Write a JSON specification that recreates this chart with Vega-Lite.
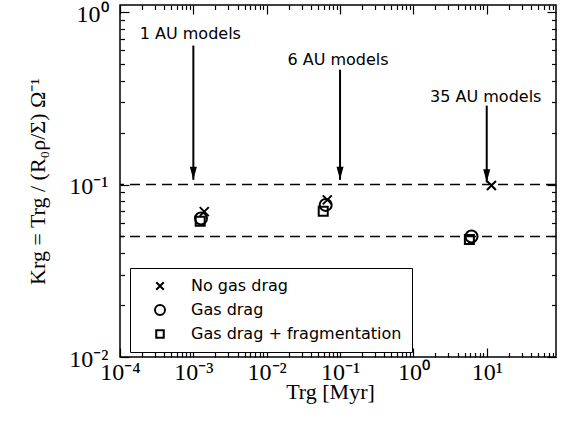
{
  "$schema": "https://vega.github.io/schema/vega-lite/v6.json",
  "width": 436,
  "height": 352,
  "autosize": {"type": "none"},
  "background": "white",
  "padding": {"left": 120, "top": 5, "right": 11, "bottom": 71},
  "config": {"view": {"stroke": "black", "strokeWidth": 1.5}, "font": "DejaVu Sans",
    "axis": {"domain": false, "grid": false, "labelOverlap": false, "labelFlush": false, "ticks": true, "tickColor": "black", "tickOpacity": 1, "tickWidth": 1.2, "zindex": 1}},
  "datasets": {
    "points": [
      {"T": 0.00141, "K": 0.0697, "series": "No gas drag"},
      {"T": 0.00127, "K": 0.0636, "series": "Gas drag"},
      {"T": 0.00124, "K": 0.0612, "series": "Gas drag + fragmentation"},
      {"T": 0.067, "K": 0.0815, "series": "No gas drag"},
      {"T": 0.0637, "K": 0.0762, "series": "Gas drag"},
      {"T": 0.059, "K": 0.070, "series": "Gas drag + fragmentation"},
      {"T": 11.6, "K": 0.0987, "series": "No gas drag"},
      {"T": 6.2, "K": 0.050, "series": "Gas drag"},
      {"T": 5.8, "K": 0.048, "series": "Gas drag + fragmentation"}
    ],
    "dashes": [{"K": 0.1}, {"K": 0.05}],
    "arrows": [
      {"T": 0.001, "y_start": 0.64, "y_end": 0.1065},
      {"T": 0.1, "y_start": 0.464, "y_end": 0.1065},
      {"T": 10, "y_start": 0.287, "y_end": 0.103}
    ],
    "labels": [
      {"T": 0.00091, "K": 0.75, "text": "1 AU models"},
      {"T": 0.094, "K": 0.528, "text": "6 AU models"},
      {"T": 9.7, "K": 0.321, "text": "35 AU models"}
    ]
  },
  "layer": [
    {
      "data": {"name": "dashes"},
      "mark": {"type": "rule", "strokeDash": [10, 6], "strokeWidth": 1.5, "color": "black"},
      "encoding": {
        "y": {"field": "K", "type": "quantitative", "scale": {"type": "log", "domain": [0.01, 1.1], "nice": false}, "axis": null}
      }
    },
    {
      "data": {"name": "arrows"},
      "mark": {"type": "rule", "strokeWidth": 2, "color": "black"},
      "encoding": {
        "x": {"field": "T", "type": "quantitative", "scale": {"type": "log", "domain": [0.0001, 88], "nice": false},
          "axis": {"orient": "top", "labels": false, "title": null, "tickSize": 9, "offset": -9,
            "values": [0.0001,0.001,0.01,0.1,1,10]}},
        "y": {"field": "y_start", "type": "quantitative", "scale": {"type": "log", "domain": [0.01, 1.1], "nice": false},
          "axis": {"orient": "right", "labels": false, "title": null, "tickSize": 9, "offset": -9,
            "values": [0.01,0.1,1]}},
        "y2": {"field": "y_end"}
      }
    },
    {
      "data": {"name": "arrows"},
      "mark": {"type": "point", "shape": "M-0.27,-1L0.27,-1L0,0Z", "filled": true, "color": "black", "size": 676, "opacity": 1},
      "encoding": {
        "x": {"field": "T", "type": "quantitative", "scale": {"type": "log", "domain": [0.0001, 88], "nice": false},
          "axis": {"orient": "top", "labels": false, "title": null, "tickSize": 4.5, "offset": -4.5,
            "values": [0.0002,0.0003,0.0004,0.0005,0.0006,0.0007,0.0008,0.0009,0.002,0.003,0.004,0.005,0.006,0.007,0.008,0.009,0.02,0.03,0.04,0.05,0.06,0.07,0.08,0.09,0.2,0.3,0.4,0.5,0.6,0.7,0.8,0.9,2,3,4,5,6,7,8,9,20,30,40,50,60,70,80]}},
        "y": {"field": "y_end", "type": "quantitative", "scale": {"type": "log", "domain": [0.01, 1.1], "nice": false},
          "axis": {"orient": "right", "labels": false, "title": null, "tickSize": 4.5, "offset": -4.5,
            "values": [0.02,0.03,0.04,0.05,0.06,0.07,0.08,0.09,0.2,0.3,0.4,0.5,0.6,0.7,0.8,0.9]}}
      }
    },
    {
      "data": {"name": "labels"},
      "mark": {"type": "text", "font": "DejaVu Sans", "fontSize": 16, "color": "black", "align": "center", "baseline": "middle"},
      "encoding": {
        "x": {"field": "T", "type": "quantitative", "scale": {"type": "log", "domain": [0.0001, 88], "nice": false},
          "axis": {"orient": "bottom", "labels": false, "title": null, "tickSize": 4.5, "offset": -4.5,
            "values": [0.0002,0.0003,0.0004,0.0005,0.0006,0.0007,0.0008,0.0009,0.002,0.003,0.004,0.005,0.006,0.007,0.008,0.009,0.02,0.03,0.04,0.05,0.06,0.07,0.08,0.09,0.2,0.3,0.4,0.5,0.6,0.7,0.8,0.9,2,3,4,5,6,7,8,9,20,30,40,50,60,70,80]}},
        "y": {"field": "K", "type": "quantitative", "scale": {"type": "log", "domain": [0.01, 1.1], "nice": false},
          "axis": {"orient": "left", "labels": false, "title": null, "tickSize": 4.5, "offset": -4.5,
            "values": [0.02,0.03,0.04,0.05,0.06,0.07,0.08,0.09,0.2,0.3,0.4,0.5,0.6,0.7,0.8,0.9]}},
        "text": {"field": "text"}
      }
    },
    {
      "data": {"name": "points"},
      "mark": {"type": "point", "filled": false, "color": "black", "strokeWidth": 2, "size": 144, "opacity": 1},
      "encoding": {
        "x": {"field": "T", "type": "quantitative", "scale": {"type": "log", "domain": [0.0001, 88], "nice": false},
          "axis": {"orient": "bottom", "tickSize": 9, "offset": -9,
            "values": [0.0001,0.001,0.01,0.1,1,10],
            "labelExpr": "['10⁻⁴','10⁻³','10⁻²','10⁻¹','10⁰','10¹'][round(log(datum.value)/LN10)+4]",
            "labelFont": "Liberation Serif", "labelFontSize": 24, "labelColor": "black", "labelBaseline": "alphabetic", "labelPadding": 22,
            "title": "Trg [Myr]", "titleFont": "Liberation Serif", "titleFontSize": 22, "titleFontWeight": "normal", "titleColor": "black",
            "titleX": 210, "titleY": 43, "titleBaseline": "middle", "titleAlign": "center"}},
        "y": {"field": "K", "type": "quantitative", "scale": {"type": "log", "domain": [0.01, 1.1], "nice": false},
          "axis": {"orient": "left", "tickSize": 9, "offset": -9,
            "values": [0.01,0.1,1],
            "labelExpr": "['10⁻²','10⁻¹','10⁰'][round(log(datum.value)/LN10)+2]",
            "labelFont": "Liberation Serif", "labelFontSize": 24, "labelColor": "black", "labelBaseline": "middle", "labelAlign": "right", "labelPadding": 12, "labelOffset": 2,
            "title": "Krg = Trg / (R₀ρ/Σ) Ω⁻¹", "titleFont": "Liberation Serif", "titleFontSize": 22, "titleFontWeight": "normal", "titleColor": "black",
            "titleX": -92, "titleY": 176, "titleAngle": -90, "titleBaseline": "middle", "titleAlign": "center"}},
        "shape": {"field": "series", "type": "nominal",
          "scale": {"domain": ["No gas drag", "Gas drag", "Gas drag + fragmentation"],
            "range": ["M-0.75,-0.75L0.75,0.75M0.75,-0.75L-0.75,0.75", "circle", "M-0.75,-0.75L0.75,-0.75L0.75,0.75L-0.75,0.75Z"]},
          "legend": {"orient": "none", "legendX": 10, "legendY": 263, "title": null, "strokeColor": "black", "fillColor": "white",
            "padding": 10, "cornerRadius": 0, "labelFont": "DejaVu Sans", "labelFontSize": 16, "labelColor": "black", "labelLimit": 400,
            "symbolSize": 100, "symbolStrokeColor": "black", "symbolStrokeWidth": 2, "symbolFillColor": "white",
            "symbolOffset": 12, "labelOffset": 23, "rowPadding": 7}}
      }
    }
  ],
  "resolve": {"axis": {"x": "independent", "y": "independent"}}
}
